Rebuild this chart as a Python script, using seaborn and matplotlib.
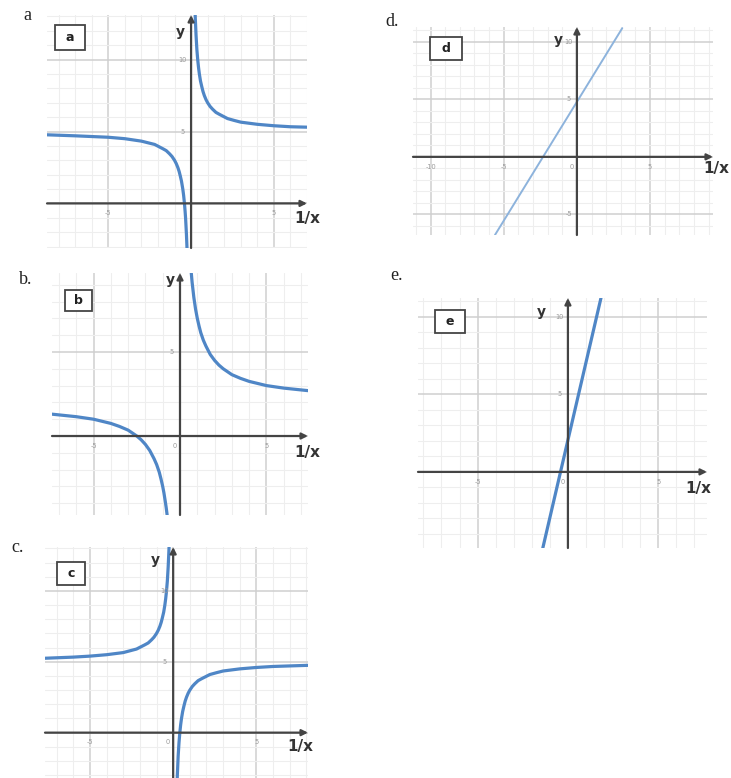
import matplotlib
matplotlib.use("Agg")
import matplotlib.pyplot as plt
from matplotlib.patches import Rectangle
import seaborn as sns
import numpy as np

sns.set_style("white")
plt.rcParams['font.family'] = ['DejaVu Sans']

W, H = 731, 778

# --- values ---
# a: two branches
a_right_x = [0.16, 0.2, 0.25, 0.3, 0.35, 0.4, 0.45, 0.5, 0.57, 0.65, 0.72, 0.8, 0.9, 1.0, 1.15,
             1.3, 1.5, 1.7, 2.2, 2.6, 3.0, 4.0, 5.0, 6.0, 7.0]
a_right_y = [17.5, 15.0, 13.0, 11.7, 10.7, 10.0, 9.45, 9.0, 8.5, 8.1, 7.78, 7.5, 7.22, 7.0, 6.74,
             6.55, 6.33, 6.2, 5.9, 5.77, 5.65, 5.5, 5.4, 5.33, 5.3]
a_left_x = [-8.7, -7.0, -5.0, -4.0, -3.0, -2.2, -1.7, -1.5, -1.3, -1.15, -1.0, -0.9, -0.8, -0.72,
            -0.65, -0.58, -0.5, -0.45, -0.4, -0.36, -0.33, -0.28, -0.25, -0.22]
a_left_y = [4.77, 4.7, 4.6, 4.5, 4.33, 4.1, 3.8, 3.67, 3.45, 3.26, 3.0, 2.78, 2.5, 2.22,
            1.9, 1.55, 1.0, 0.56, 0.0, -0.56, -1.05, -2.15, -3.0, -4.1]

# b: two branches
b_right_x = [0.55, 0.6, 0.7, 0.8, 0.9, 1.0, 1.1, 1.2, 1.35, 1.5, 1.75, 2.0, 2.25, 2.5, 3.0, 3.5,
             4.0, 5.0, 6.0, 7.4]
b_right_y = [11.1, 10.3, 9.15, 8.25, 7.55, 7.0, 6.55, 6.15, 5.7, 5.35, 4.85, 4.5, 4.22, 4.0, 3.65, 3.43,
             3.25, 3.0, 2.85, 2.7]
b_left_x = [-7.4, -6.0, -5.0, -4.0, -3.5, -3.0, -2.5, -2.25, -2.0, -1.75, -1.5, -1.35, -1.2, -1.1,
            -1.0, -0.93, -0.85, -0.8, -0.75, -0.7]
b_left_y = [1.3, 1.15, 1.0, 0.75, 0.57, 0.35, 0.0, -0.22, -0.5, -0.86, -1.35, -1.7, -2.15, -2.55,
            -3.0, -3.38, -3.9, -4.25, -4.65, -5.15]

# c: two branches
c_left_x = [-7.7, -6.0, -5.0, -4.0, -3.0, -2.2, -1.7, -1.5, -1.3, -1.15, -1.0, -0.9, -0.8, -0.72,
            -0.65, -0.57, -0.5, -0.45, -0.4, -0.35, -0.3, -0.25, -0.22]
c_left_y = [5.25, 5.33, 5.4, 5.5, 5.65, 5.9, 6.2, 6.33, 6.55, 6.74, 7.0, 7.22, 7.5, 7.78,
            8.1, 8.5, 9.0, 9.45, 10.0, 10.7, 11.7, 13.0, 14.1]
c_right_x = [0.2, 0.25, 0.3, 0.35, 0.4, 0.45, 0.5, 0.57, 0.65, 0.72, 0.8, 0.9, 1.0, 1.15, 1.3,
             1.5, 1.7, 2.2, 2.6, 3.0, 4.0, 5.0, 6.0, 8.1]
c_right_y = [-5.0, -3.0, -1.65, -0.71, 0.0, 0.56, 1.0, 1.49, 1.9, 2.22, 2.5, 2.78, 3.0, 3.26, 3.45,
             3.67, 3.8, 4.1, 4.23, 4.35, 4.5, 4.6, 4.67, 4.75]

# d and e: straight lines (end points)
d_x = [-5.6, 3.1]
d_y = [-6.8, 11.2]
e_x = [-1.39, 1.83]
e_y = [-4.9, 11.2]

# tick labels shown on each panel
a_xt = [-5, 5]
a_yt = [5, 10]
b_xt = [-5, 0, 5]
b_yt = [5, -5]
c_xt = [-5, 0, 5]
c_yt = [5, 10]
d_xt = [-10, -5, 0, 5]
d_yt = [10, 5, -5]
e_xt = [-5, 0, 5]
e_yt = [10, 5, -5]

blue = "#4f86c6"
light_blue = "#8db3dc"
axis_col = "#444444"

fig = plt.figure(figsize=(W / 100, H / 100), dpi=100)


def make_axes(box, xlim, ylim):
    l, t, r, b = box
    ax = fig.add_axes([l / W, 1 - b / H, (r - l) / W, (b - t) / H])
    for s in ax.spines.values():
        s.set_visible(False)
    ax.set_xticks(np.arange(-15, 16, 5))
    ax.set_yticks(np.arange(-15, 16, 5))
    ax.set_xticks(np.arange(-15, 16, 1), minor=True)
    ax.set_yticks(np.arange(-15, 16, 1), minor=True)
    ax.set_xlim(*xlim)
    ax.set_ylim(*ylim)
    ax.grid(which="minor", color="#eeeeee", lw=0.8)
    ax.grid(which="major", color="#cfcfcf", lw=1.1)
    ax.tick_params(which="both", length=0, labelbottom=False, labelleft=False)
    ax.set_axisbelow(True)
    # axis lines with arrow heads
    ax.annotate("", xy=(xlim[1], 0), xytext=(xlim[0], 0),
                arrowprops=dict(arrowstyle="-|>", color=axis_col, lw=1.6,
                                mutation_scale=9, shrinkA=0, shrinkB=0))
    ax.annotate("", xy=(0, ylim[1]), xytext=(0, ylim[0]),
                arrowprops=dict(arrowstyle="-|>", color=axis_col, lw=1.6,
                                mutation_scale=9, shrinkA=0, shrinkB=0))
    return ax


def tick_text(ax, xt, yt):
    for v in xt:
        ax.annotate(str(v), (v, 0), xytext=(-4 if v == 0 else 0, -7),
                    textcoords="offset points", ha="center", va="center",
                    fontsize=4.8, color="#9a9a9a")
    for v in yt:
        ax.annotate(str(v), (0, v), xytext=(-6, 0),
                    textcoords="offset points", ha="center", va="center",
                    fontsize=4.8, color="#9a9a9a")


def fig_text(px, py, s, **kw):
    fig.text(px / W, 1 - py / H, s, ha="center", va="center", **kw)


def label_box(box, s):
    l, t, r, b = box
    fig.add_artist(Rectangle((l / W, 1 - b / H), (r - l) / W, (b - t) / H,
                             transform=fig.transFigure, facecolor="white",
                             edgecolor="#444444", lw=1.3, zorder=5))
    fig.text((l + r) / 2 / W, 1 - (t + b) / 2 / H, s, ha="center", va="center",
             fontsize=9, fontweight="bold", color="#222222", zorder=6)


line_kw = dict(sort=False, estimator=None)

# panel a
ax = make_axes((47, 15, 307, 248), (-8.7, 7.0), (-3.1, 13.1))
sns.lineplot(x=a_right_x, y=a_right_y, ax=ax, color=blue, lw=2.3, **line_kw)
sns.lineplot(x=a_left_x, y=a_left_y, ax=ax, color=blue, lw=2.3, **line_kw)
tick_text(ax, a_xt, a_yt)

# panel b
ax = make_axes((52, 273, 308, 515), (-7.4, 7.4), (-4.7, 9.7))
sns.lineplot(x=b_right_x, y=b_right_y, ax=ax, color=blue, lw=2.3, **line_kw)
sns.lineplot(x=b_left_x, y=b_left_y, ax=ax, color=blue, lw=2.3, **line_kw)
tick_text(ax, b_xt, b_yt)

# panel c
ax = make_axes((45, 547, 308, 778), (-7.7, 8.1), (-3.2, 13.1))
sns.lineplot(x=c_left_x, y=c_left_y, ax=ax, color=blue, lw=2.3, **line_kw)
sns.lineplot(x=c_right_x, y=c_right_y, ax=ax, color=blue, lw=2.3, **line_kw)
tick_text(ax, c_xt, c_yt)

# panel d
ax = make_axes((413, 27, 713, 235), (-11.2, 9.3), (-6.8, 11.3))
sns.lineplot(x=d_x, y=d_y, ax=ax, color=light_blue, lw=1.4, **line_kw)
tick_text(ax, d_xt, d_yt)

# panel e
ax = make_axes((418, 298, 707, 548), (-8.3, 7.7), (-4.9, 11.2))
sns.lineplot(x=e_x, y=e_y, ax=ax, color=blue, lw=2.3, **line_kw)
tick_text(ax, e_xt, e_yt)

# outer letters
serif = dict(family="Liberation Serif", fontsize=13, color="#222222")
fig_text(27, 15, "a", **serif)
fig_text(26, 280, "b.", **serif)
fig_text(18, 547, "c.", **serif)
fig_text(392, 22, "d.", **serif)
fig_text(396, 275, "e.", **serif)

# boxed letters
label_box((55, 25, 85, 50), "a")
label_box((65, 290, 92, 311), "b")
label_box((57, 562, 85, 585), "c")
label_box((430, 37, 462, 60), "d")
label_box((435, 310, 465, 333), "e")

# y labels
ylab = dict(fontsize=10, fontweight="bold", color="#333333")
fig_text(180, 32, "y", **ylab)
fig_text(170, 280, "y", **ylab)
fig_text(155, 560, "y", **ylab)
fig_text(558, 40, "y", **ylab)
fig_text(541, 312, "y", **ylab)

# 1/x labels
xlab = dict(fontsize=11, fontweight="bold", color="#333333")
fig_text(307, 218, "1/x", **xlab)
fig_text(307, 453, "1/x", **xlab)
fig_text(300, 747, "1/x", **xlab)
fig_text(716, 168, "1/x", **xlab)
fig_text(698, 488, "1/x", **xlab)

fig.savefig("out.png", dpi=100, facecolor="white")
